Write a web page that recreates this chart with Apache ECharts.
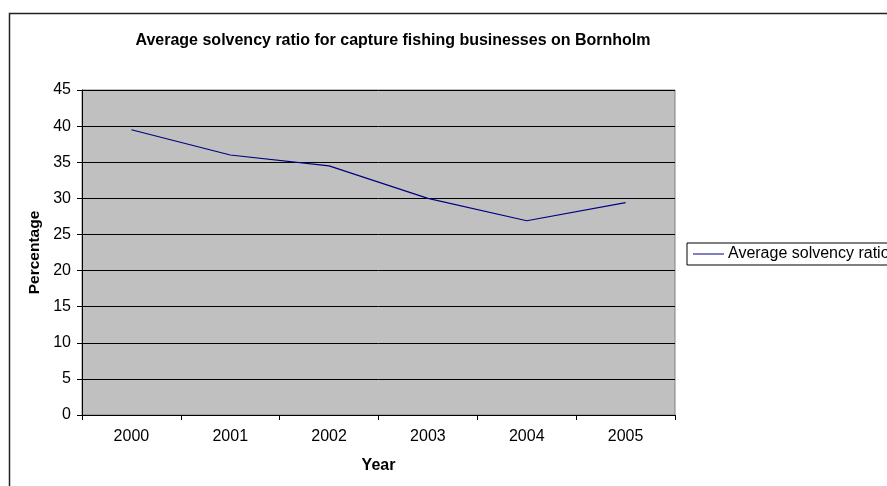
<!DOCTYPE html>
<html>
<head>
<meta charset="utf-8">
<script src="https://cdn.jsdelivr.net/npm/echarts@6/dist/echarts.min.js"></script>
<style>
html,body{margin:0;padding:0;background:#fff;}
#c{width:887px;height:486px;}
</style>
</head>
<body>
<div id="c"></div>
<script>
var years = ['2000','2001','2002','2003','2004','2005'];
var solvency = [39.5, 36.0, 34.5, 30.0, 26.9, 29.4];
var seriesName = 'Average solvency ratio';
var titleText = 'Average solvency ratio for capture fishing businesses on Bornholm';

var chart = echarts.init(document.getElementById('c'), null, {renderer:'canvas'});
var font = 'Arial, "Liberation Sans", sans-serif';
chart.setOption({
  backgroundColor: '#ffffff',
  animation: false,
  graphic: [{
    type: 'rect', left: 7, top: 11, z: -1,
    shape: {width: 900, height: 500},
    style: {fill: 'none', stroke: '#222', lineWidth: 1.5}
  }],
  title: {
    text: titleText, left: 388, top: 28, textAlign: 'center',
    textStyle: {fontFamily: font, fontSize: 16, fontWeight: 'bold', color: '#000'}
  },
  legend: {
    left: 687, top: 243, orient: 'vertical',
    borderColor: '#000', borderWidth: 1, padding: [2, 220, 2, 6],
    icon: 'rect', itemWidth: 31, itemHeight: 1, itemGap: 0,
    textStyle: {fontFamily: font, fontSize: 16, color: '#000', padding: [0,0,0,-1], lineHeight: 18},
    data: [{name: seriesName}]
  },
  grid: {
    left: 82, top: 90, width: 593, height: 325,
    show: true, backgroundColor: '#c0c0c0', borderColor: '#808080', borderWidth: 1
  },
  xAxis: {
    type: 'category', data: years, boundaryGap: true,
    name: 'Year', nameLocation: 'middle', nameGap: 43,
    nameTextStyle: {fontFamily: font, fontSize: 16, fontWeight: 'bold', color: '#000'},
    axisLine: {lineStyle: {color: '#000', width: 1}},
    axisTick: {show: true, length: 5, lineStyle: {color: '#000'}},
    axisLabel: {fontFamily: font, fontSize: 16, color: '#000', margin: 14},
    splitLine: {show: false}
  },
  yAxis: {
    type: 'value', min: 0, max: 45, interval: 5,
    name: 'Percentage', nameLocation: 'middle', nameGap: 39,
    nameTextStyle: {fontFamily: font, fontSize: 15.5, fontWeight: 'bold', color: '#000'},
    axisLine: {show: true, lineStyle: {color: '#000', width: 1}},
    axisTick: {show: true, length: 5, lineStyle: {color: '#000'}},
    axisLabel: {fontFamily: font, fontSize: 16, color: '#000', margin: 11},
    splitLine: {show: true, lineStyle: {color: '#000', width: 1}}
  },
  series: [{
    name: seriesName, type: 'line', data: solvency,
    symbol: 'none', lineStyle: {color: '#000080', width: 1.2},
    itemStyle: {color: '#000080'}
  }]
});
</script>
</body>
</html>
